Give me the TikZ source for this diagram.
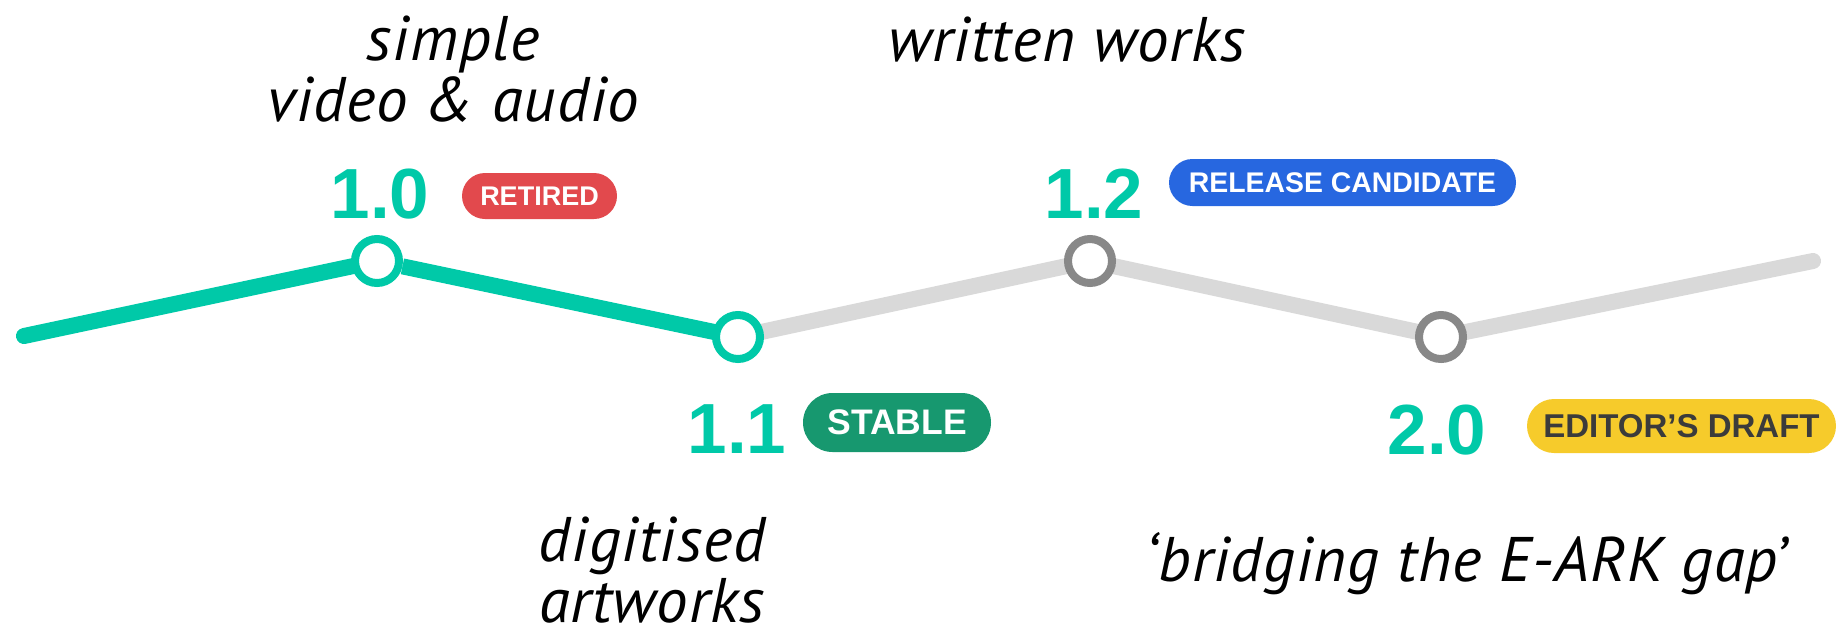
\documentclass[tikz,border=0pt]{standalone}
\usepackage{fontspec}
\setmainfont{Liberation Sans}
\newfontfamily\capfont{PT Sans}[LetterSpace=1.5]
\usetikzlibrary{backgrounds}
\definecolor{tealc}{HTML}{00C9A8}
\definecolor{greyline}{HTML}{D9D9D9}
\definecolor{greyring}{HTML}{888888}
\definecolor{badgered}{HTML}{E2494D}
\definecolor{badgegreen}{HTML}{17986F}
\definecolor{badgeblue}{HTML}{2767E0}
\definecolor{badgeyellow}{HTML}{F6CB2B}
\definecolor{darktext}{HTML}{3B3B3B}
\tikzset{
  ring/.style={circle, draw, line width=8pt, fill=white, minimum size=44pt, inner sep=0pt},
  donering/.style={ring, draw=tealc},
  todoring/.style={ring, draw=greyring},
  doneline/.style={line width=16pt, draw=tealc},
  todoline/.style={line width=16pt, draw=greyline},
  vernum/.style={anchor=base, text=tealc, font=\bfseries\fontsize{71}{80}\selectfont, inner sep=0pt},
  badge/.style={inner sep=0pt, font=\bfseries, text=white},
  caption/.style={align=center, anchor=base, inner sep=0pt, font=\capfont\itshape\fontsize{63}{61}\selectfont}
}
\begin{document}
\begin{tikzpicture}[x=1pt, y=-1pt]
\useasboundingbox (0,0) rectangle (1840,627);
% timeline points
\coordinate (start) at (24,336);
\coordinate (finish) at (1813,261);
\node[donering] (v10) at (377,261) {};
\node[donering] (v11) at (738,337) {};
\node[todoring] (v12) at (1090,261) {};
\node[todoring] (v20) at (1441,337) {};
\begin{scope}[on background layer]
\draw[doneline, line cap=round] (start) -- (v10.center);
\draw[doneline] (v10) -- (v11.center);
\draw[todoline] (v11.center) -- (v12.center);
\draw[todoline] (v12.center) -- (v20.center);
\draw[todoline, line cap=round] (v20.center) -- (finish);
\end{scope}
% version numbers
\node[vernum] (n10) at (380,218) {1.0};
\node[vernum] (n11) at (737,453) {1.1};
\node[vernum] (n12) at (1094,218) {1.2};
\node[vernum] (n20) at (1437,454) {2.0};
% badges
\node[badge, fill=badgered, minimum width=155pt, minimum height=46pt, rounded corners=23pt,
      font=\bfseries\fontsize{27}{30}\selectfont] (b10) at (539.5,196) {RETIRED};
\node[badge, fill=badgegreen, minimum width=188pt, minimum height=59pt, rounded corners=29.5pt,
      font=\bfseries\fontsize{35.5}{40}\selectfont] (b11) at (897,422.5) {STABLE};
\node[badge, fill=badgeblue, minimum width=347pt, minimum height=47pt, rounded corners=23.5pt,
      font=\bfseries\fontsize{28.4}{32}\selectfont] (b12) at (1342.5,182.5) {RELEASE CANDIDATE};
\node[badge, fill=badgeyellow, text=darktext, minimum width=309pt, minimum height=54pt, rounded corners=27pt,
      font=\bfseries\fontsize{33}{36}\selectfont] (b20) at (1681.5,426) {EDITOR’S DRAFT};
% captions
\node[caption] (c10) at (453,121) {simple\\video \& audio};
\node[caption] (c12) at (1067,61) {written works};
\node[caption] (c11) at (652,622) {digitised\\artworks};
\node[caption] (c20) at (1466,581) {‘bridging the E-ARK gap’};
\end{tikzpicture}
\end{document}
